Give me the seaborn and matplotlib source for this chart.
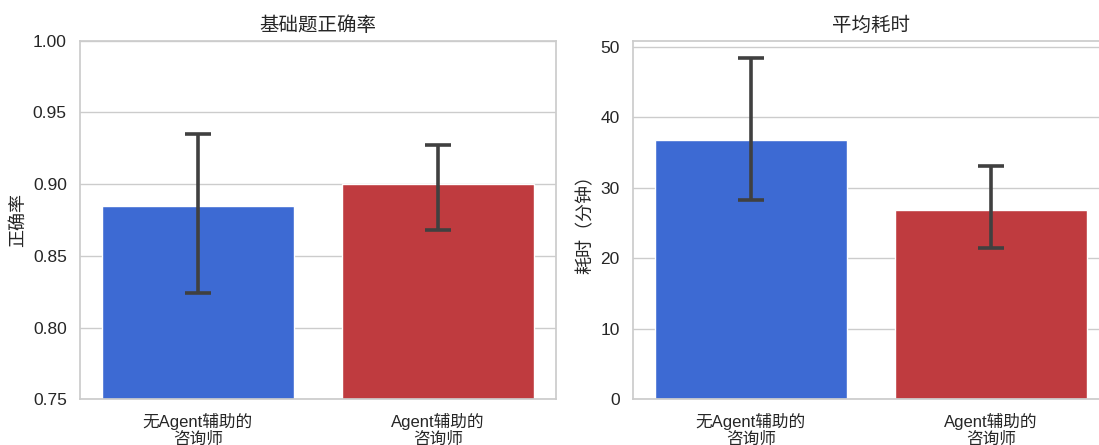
import matplotlib
matplotlib.use("Agg")
import matplotlib.pyplot as plt
import numpy as np
import pandas as pd
import seaborn as sns

# Groups compared in both panels
groups = ["无Agent辅助的\n咨询师", "Agent辅助的\n咨询师"]
group_colors = ["#3D6AD3", "#BF3B3F"]

# Basic-question accuracy: mean and interval bounds
accuracy = [0.885, 0.900]
accuracy_low = [0.824, 0.868]
accuracy_high = [0.935, 0.927]

# Average time spent (minutes): mean and interval bounds
minutes = [36.7, 26.8]
minutes_low = [28.2, 21.4]
minutes_high = [48.4, 33.1]

sns.set_theme(style="whitegrid", context="notebook")
plt.rcParams["font.family"] = ["Liberation Sans", "Noto Sans CJK SC", "DejaVu Sans"]
plt.rcParams["axes.unicode_minus"] = False

fig = plt.figure(figsize=(10.99, 4.45), dpi=100)
ax_acc = fig.add_axes([0.0728, 0.1025, 0.4330, 0.8060])
ax_time = fig.add_axes([0.5760, 0.1025, 0.4330, 0.8060])

palette = dict(zip(groups, group_colors))


def draw_panel(ax, values, low, high, title, ylabel):
    df = pd.DataFrame({"group": groups, "value": values})
    sns.barplot(data=df, x="group", y="value", hue="group", palette=palette,
                saturation=1, errorbar=None, legend=False, width=0.8, ax=ax)
    vals = np.asarray(values)
    yerr = [vals - np.asarray(low), np.asarray(high) - vals]
    ax.errorbar(np.arange(len(groups)), vals, yerr=yerr, fmt="none",
                ecolor="#404040", elinewidth=2.6, capsize=9.5, capthick=2.6,
                zorder=3)
    ax.set_title(title, fontsize=14, fontweight="medium", pad=7)
    ax.set_ylabel(ylabel, fontsize=13)
    ax.set_xlabel("")
    ax.tick_params(axis="y", labelsize=12.5)
    ax.tick_params(axis="x", labelsize=12)
    for spine in ax.spines.values():
        spine.set_color("#cccccc")
        spine.set_linewidth(1.25)


draw_panel(ax_acc, accuracy, accuracy_low, accuracy_high, "基础题正确率", "正确率")
ax_acc.set_ylim(0.75, 1.00)
ax_acc.set_yticks(np.arange(0.75, 1.0001, 0.05))

draw_panel(ax_time, minutes, minutes_low, minutes_high, "平均耗时", "耗时（分钟）")
ax_time.set_yticks([0, 10, 20, 30, 40, 50])

fig.savefig("out.png", dpi=100)
